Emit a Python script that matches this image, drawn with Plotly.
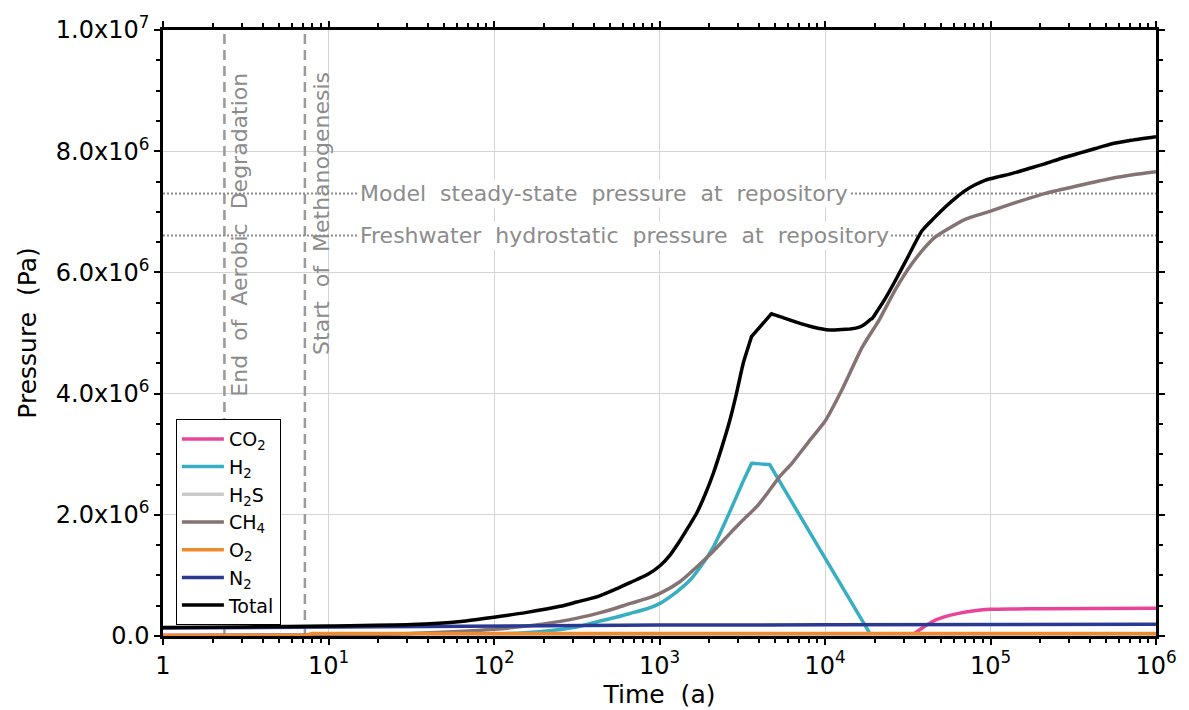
import plotly.graph_objects as go

# ---- data (time in years, pressure in Pa) ----
t_total = [1, 3.16, 10, 31.6, 63, 100, 158, 251, 316, 422, 531, 668, 841, 1007, 1161, 1334,
           1496, 1679, 1884, 2118, 2371, 2661, 2917, 3206, 3560, 3597, 3650, 4680, 4742,
           4810, 5623, 6699, 8433, 10617, 13366, 15346, 16827, 19000, 19320, 19650, 22909,
           26670, 31623, 38637, 45709, 53333, 61660, 70307, 81283, 92683, 112202, 133968,
           168655, 212324, 266686, 335738, 424620, 534564, 707946, 1000000]
p_total = [1.40e5, 1.50e5, 1.65e5, 1.90e5, 2.40e5, 3.10e5, 3.90e5, 4.90e5, 5.60e5, 6.50e5,
           7.60e5, 8.85e5, 1.01e6, 1.16e6, 1.34e6, 1.58e6, 1.80e6, 2.03e6, 2.33e6, 2.69e6,
           3.10e6, 3.56e6, 4.00e6, 4.50e6, 4.90e6, 4.94e6, 4.96e6, 5.30e6, 5.32e6, 5.31e6,
           5.25e6, 5.18e6, 5.10e6, 5.05e6, 5.06e6, 5.08e6, 5.12e6, 5.23e6, 5.24e6, 5.27e6,
           5.55e6, 5.87e6, 6.25e6, 6.69e6, 6.90e6, 7.08e6, 7.23e6, 7.35e6, 7.45e6, 7.52e6,
           7.58e6, 7.63e6, 7.71e6, 7.79e6, 7.88e6, 7.96e6, 8.04e6, 8.12e6, 8.18e6, 8.24e6]

t_ch4 = [1, 10, 31.6, 100, 200, 288, 422, 531, 668, 841, 1007, 1334, 1679, 2113, 2661,
         3162, 3855, 4467, 5321, 6310, 7943, 10092, 12589, 16827, 21184, 26670, 33651,
         39811, 45709, 53333, 70795, 97050, 141254, 212324, 336512, 534564, 724436, 1000000]
p_ch4 = [5.0e3, 1.5e4, 4.0e4, 1.10e5, 2.00e5, 2.70e5, 3.74e5, 4.50e5, 5.39e5, 6.20e5,
         7.04e5, 9.00e5, 1.14e6, 1.40e6, 1.69e6, 1.90e6, 2.13e6, 2.35e6, 2.63e6, 2.85e6,
         3.20e6, 3.56e6, 4.05e6, 4.77e6, 5.21e6, 5.72e6, 6.15e6, 6.40e6, 6.57e6, 6.69e6,
         6.88e6, 7.00e6, 7.15e6, 7.30e6, 7.43e6, 7.55e6, 7.61e6, 7.66e6]

t_h2 = [1, 10, 31.6, 100, 200, 316, 422, 531, 668, 841, 1007, 1259, 1531, 1778, 2118,
        2512, 2917, 3236, 3560, 3597, 3650, 4560, 4634, 4720, 18700, 19055, 1000000]
p_h2 = [0, 0, 5.0e3, 3.0e4, 8.0e4, 1.50e5, 2.36e5, 3.00e5, 3.74e5, 4.50e5, 5.39e5, 7.20e5,
        9.23e5, 1.15e6, 1.47e6, 1.90e6, 2.30e6, 2.58e6, 2.82e6, 2.85e6, 2.85e6, 2.83e6,
        2.83e6, 2.79e6, 3.8e4, 0, 0]

t_co2 = [1, 5, 10, 32400, 36300, 40000, 44360, 52000, 64120, 80000, 99300, 140000,
         202800, 1000000]
p_co2 = [1.2e4, 1.2e4, 0, 0, 8.0e4, 1.60e5, 2.36e5, 3.10e5, 3.74e5, 4.15e5, 4.40e5,
         4.47e5, 4.50e5, 4.57e5]

t_h2s = [1, 100, 150, 300, 400, 1000000]
p_h2s = [0, 0, 3.0e4, 3.0e4, 0, 0]

t_o2 = [1, 7.2, 8, 1000000]
p_o2 = [1.0e4, 1.0e4, 4.0e4, 4.0e4]

t_n2 = [1, 10, 100, 1000, 10000, 100000, 1000000]
p_n2 = [1.30e5, 1.50e5, 1.70e5, 1.80e5, 1.85e5, 1.90e5, 1.95e5]

# reference events and pressures
t_aerobic_end = 2.35
t_methanogenesis = 7.2
p_steady_state = 7.30e6
p_hydrostatic = 6.61e6

x_ticks = [1, 10, 100, 1000, 10000, 100000, 1000000]
x_tick_text = ["1", "10<sup>1</sup>", "10<sup>2</sup>", "10<sup>3</sup>",
               "10<sup>4</sup>", "10<sup>5</sup>", "10<sup>6</sup>"]
y_ticks = [0, 2e6, 4e6, 6e6, 8e6, 1e7]
y_tick_text = ["0.0", "2.0x10<sup>6</sup>", "4.0x10<sup>6</sup>", "6.0x10<sup>6</sup>",
               "8.0x10<sup>6</sup>", "1.0x10<sup>7</sup>"]

FONT = "DejaVu Sans, Liberation Sans, sans-serif"
GREY = "#8c8c8c"
LW = 3.5
SP = "\u00a0 "  # wide word gap

fig = go.Figure()

# event markers (vertical dashed) and reference pressures (horizontal dotted)
for tv in (t_aerobic_end, t_methanogenesis):
    fig.add_trace(go.Scatter(x=[tv, tv], y=[0, 1e7], mode="lines", showlegend=False,
                             hoverinfo="skip",
                             line=dict(color="#9a9a9a", width=2.5, dash="10px,6px")))
for pv in (p_steady_state, p_hydrostatic):
    fig.add_trace(go.Scatter(x=[1, 1e6], y=[pv, pv], mode="lines", showlegend=False,
                             hoverinfo="skip",
                             line=dict(color="#8c8c8c", width=2, dash="2px,2px")))

series = [
    ("CO<sub>2</sub>", t_co2, p_co2, "#e8449a", "spline"),
    ("H<sub>2</sub>", t_h2, p_h2, "#38aec3", "spline"),
    ("H<sub>2</sub>S", t_h2s, p_h2s, "#cacaca", "linear"),
    ("CH<sub>4</sub>", t_ch4, p_ch4, "#857373", "spline"),
    ("O<sub>2</sub>", t_o2, p_o2, "#f08a2e", "linear"),
    ("N<sub>2</sub>", t_n2, p_n2, "#2a3a92", "linear"),
    ("Total", t_total, p_total, "#000000", "spline"),
]
for name, tx, py, col, shape in series:
    fig.add_trace(go.Scatter(x=tx, y=py, mode="lines", name=name,
                             line=dict(color=col, width=LW, shape=shape, smoothing=0.6)))

# labels
vert_font = dict(family=FONT, size=22, color=GREY)
horz_font = dict(family=FONT, size=22, color=GREY)
fig.add_annotation(xref="paper", yref="paper", x=0.077, y=0.663, textangle=-90,
                   xanchor="center", yanchor="middle",
                   text=SP.join(["End", "of", "Aerobic", "Degradation"]),
                   showarrow=False, font=vert_font)
fig.add_annotation(xref="paper", yref="paper", x=0.159, y=0.698, textangle=-90,
                   xanchor="center", yanchor="middle",
                   text=SP.join(["Start", "of", "Methanogenesis"]),
                   showarrow=False, font=vert_font)
fig.add_annotation(xref="paper", yref="y", x=0.196, y=p_steady_state, xanchor="left",
                   text=SP.join(["Model", "steady-state", "pressure", "at", "repository"]),
                   showarrow=False, bgcolor="white", borderpad=1, font=horz_font)
fig.add_annotation(xref="paper", yref="y", x=0.196, y=p_hydrostatic, xanchor="left",
                   text=SP.join(["Freshwater", "hydrostatic", "pressure", "at", "repository"]),
                   showarrow=False, bgcolor="white", borderpad=1, font=horz_font)

axis_common = dict(showline=True, linewidth=2.5, linecolor="black", mirror="ticks",
                   ticks="outside", ticklen=6, tickwidth=1.5, tickcolor="black",
                   showgrid=True, gridcolor="#d4d4d4", gridwidth=1, zeroline=False,
                   tickfont=dict(family=FONT, size=24, color="black"))

minor_x = [m * 10 ** k for k in range(6) for m in range(2, 10)]

fig.update_layout(
    width=1189, height=710,
    margin=dict(l=163, r=27, t=30, b=74),
    paper_bgcolor="white", plot_bgcolor="white",
    font=dict(family=FONT, color="black"),
    xaxis=dict(type="log", range=[0, 6], tickvals=x_ticks, ticktext=x_tick_text,
               title=dict(text="Time" + SP + "(a)", font=dict(family=FONT, size=25), standoff=0),
               minor=dict(tickvals=minor_x, ticks="outside", ticklen=4, tickcolor="black",
                          showgrid=False),
               **axis_common),
    yaxis=dict(range=[0, 1e7], tickvals=y_ticks, ticktext=y_tick_text,
               title=dict(text="Pressure" + SP + "(Pa)", font=dict(family=FONT, size=25),
                          standoff=13),
               minor=dict(dtick=5e5, ticks="outside", ticklen=4, tickcolor="black",
                          showgrid=False),
               **axis_common),
    legend=dict(x=0.013, y=0.358, xanchor="left", yanchor="top",
                bgcolor="white", bordercolor="black", borderwidth=1,
                font=dict(family=FONT, size=19, color="black"),
                itemwidth=42, tracegroupgap=0),
    showlegend=True,
)

fig.write_html("out.html")
